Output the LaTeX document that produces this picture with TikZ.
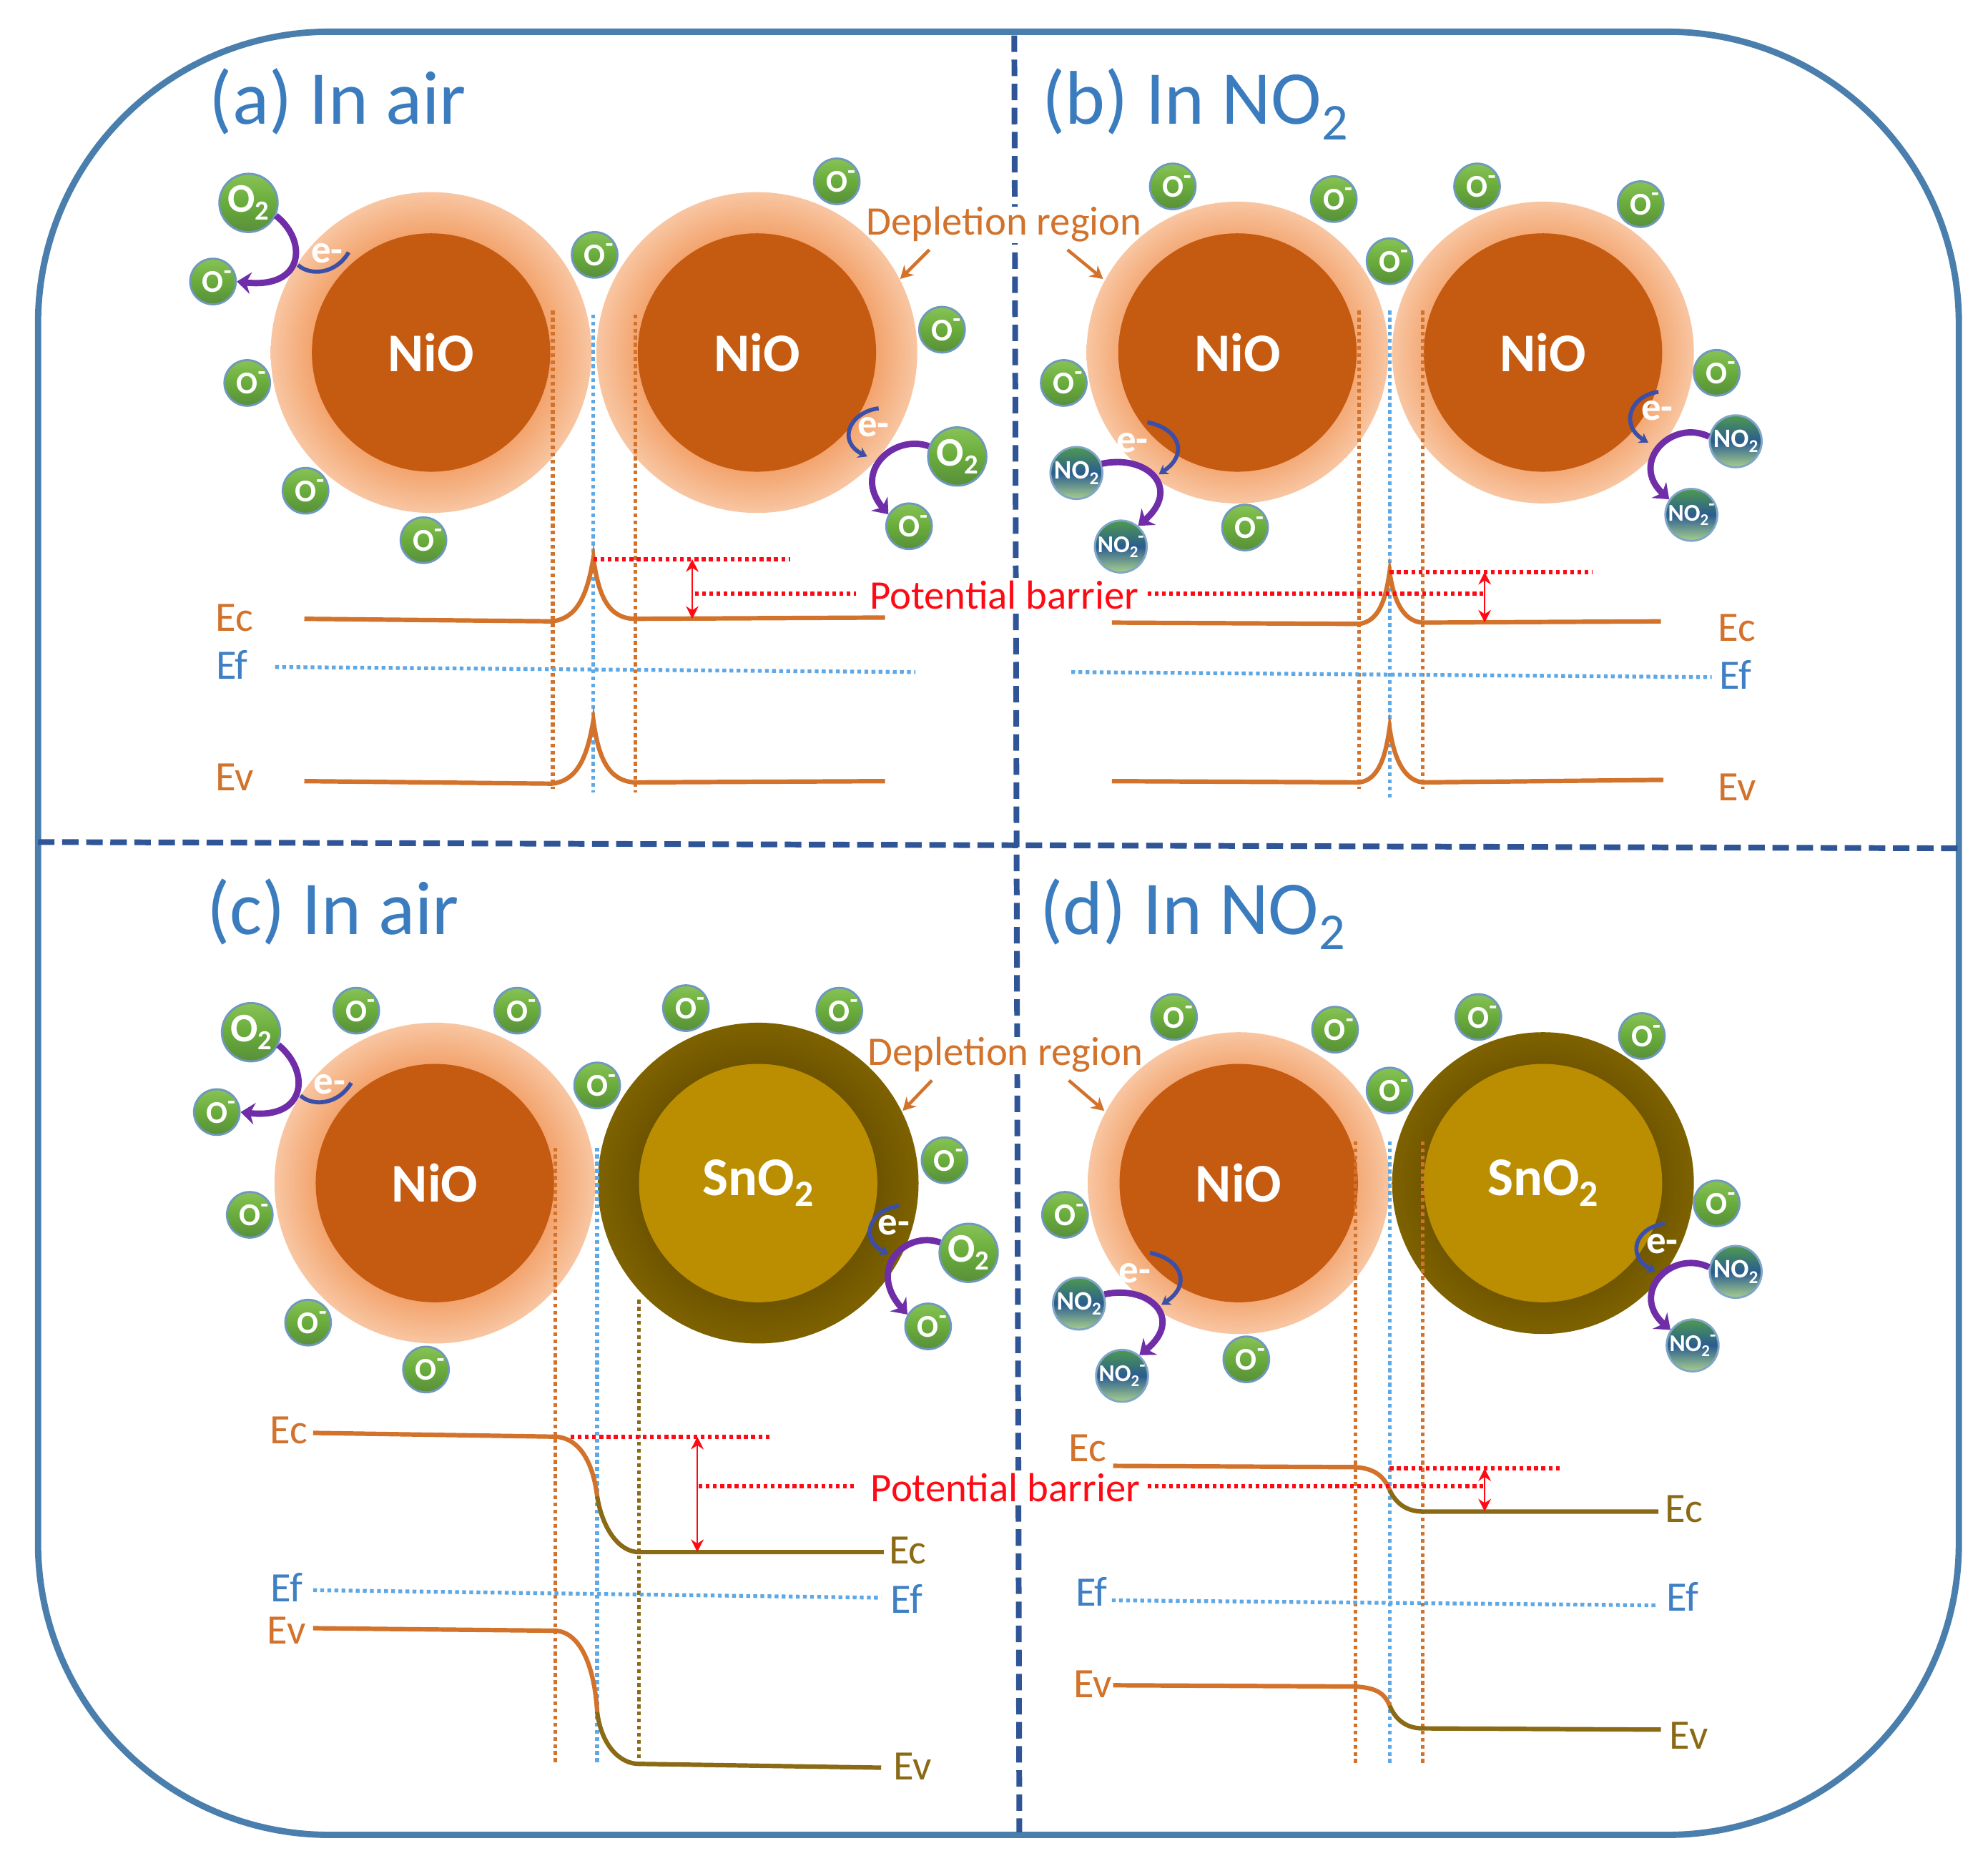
\documentclass[tikz,border=0pt]{standalone}
\usepackage{fontspec}
\setmainfont{Carlito}
\usetikzlibrary{arrows.meta}
\definecolor{framecol}{HTML}{4A7EAD}
\definecolor{divcol}{HTML}{2F5597}
\definecolor{titlecol}{HTML}{3A7CBD}
\definecolor{nioin}{HTML}{C55A11}
\definecolor{haloA}{HTML}{F3A46E}
\definecolor{haloB}{HTML}{F8C6A2}
\definecolor{snoin}{HTML}{BA8E00}
\definecolor{snoA}{HTML}{6E5400}
\definecolor{snoB}{HTML}{7E6200}
\definecolor{bandor}{HTML}{D2722B}
\definecolor{bandol}{HTML}{8A6A14}
\definecolor{fermi}{HTML}{5FA8E6}
\definecolor{labblue}{HTML}{3F80C4}
\definecolor{redd}{HTML}{FF0A14}
\definecolor{purp}{HTML}{6F2DA8}
\definecolor{elec}{HTML}{3B4FA8}
\definecolor{gtop}{HTML}{88C255}
\definecolor{gmid}{HTML}{69AC3C}
\definecolor{gbot}{HTML}{588F39}
\definecolor{ntop}{HTML}{4E9A50}
\definecolor{nmid}{HTML}{2A5C90}
\definecolor{nbot}{HTML}{A8CF8C}
\pgfdeclareradialshading{halonio}{\pgfpoint{0bp}{0bp}}{color(0bp)=(nioin);color(18.6bp)=(haloA);color(25bp)=(haloB);color(50bp)=(haloB)}
\pgfdeclareradialshading{halosno}{\pgfpoint{0bp}{0bp}}{color(0bp)=(snoA);color(18.6bp)=(snoA);color(25bp)=(snoB);color(50bp)=(snoB)}
\newcommand{\sbs}[1]{\raisebox{-.2em}{\scalebox{.68}{#1}}}
\newcommand{\sps}[1]{\raisebox{.42em}{\scalebox{.8}{#1}}}
\newcommand{\sz}[1]{\fontsize{#1}{#1}\selectfont}
\tikzset{
  paneltitle/.style={anchor=base west,text=titlecol,font=\sz{60},inner sep=0pt},
  coretext/.style={text=white,font=\sz{43}\bfseries,inner sep=0pt,circle,minimum size=188pt},
  nio/.style={coretext,fill=nioin},
  sno/.style={coretext,fill=snoin},
  shell/.style={circle,inner sep=0pt},
  ob/.style={circle,inner sep=0pt,minimum size=36pt,draw=framecol!80,line width=1.6pt,
    top color=gtop,bottom color=gbot,middle color=gmid,text=white,font=\sz{25}\bfseries},
  obb/.style={ob,minimum size=46pt,font=\sz{32}\bfseries},
  nb/.style={circle,inner sep=0pt,minimum size=41pt,draw=framecol!70,line width=1.6pt,
    top color=ntop,bottom color=nbot,middle color=nmid,text=white,font=\sz{21}\bfseries},
  nbm/.style={nb,font=\sz{19}\bfseries},
  purparrow/.style={draw=purp,line width=5pt,-{Stealth[length=11pt,width=17pt]}},
  elecarrow/.style={draw=elec,line width=3.2pt,-{Stealth[length=7pt,width=9pt]}},
  elecarc/.style={draw=elec,line width=3.2pt},
  etext/.style={text=white,font=\sz{31}\bfseries,inner sep=0pt},
  divline/.style={draw=divcol,line width=4.5pt,dash pattern=on 13pt off 6pt},
  vor/.style={draw=bandor,line width=3pt,dash pattern=on 3pt off 2.6pt},
  vol/.style={draw=bandol,line width=3pt,dash pattern=on 3pt off 2.6pt},
  vbl/.style={draw=fermi,line width=3pt,dash pattern=on 3pt off 2.6pt},
  reddot/.style={draw=redd,line width=3.5pt,dash pattern=on 3pt off 2.7pt},
  redarrow/.style={draw=redd,line width=1.2pt,{Stealth[length=10pt,width=10pt]}-{Stealth[length=10pt,width=10pt]}},
  bandO/.style={draw=bandor,line width=3.5pt},
  bandL/.style={draw=bandol,line width=3.5pt},
  lab/.style={font=\sz{33},inner sep=0pt},
  labO/.style={lab,text=bandor},
  labL/.style={lab,text=bandol},
  labB/.style={lab,text=labblue},
  deptext/.style={text=bandor,font=\sz{32},inner sep=1pt},
  redtext/.style={text=redd,font=\sz{32},inner sep=2pt,fill=white},
  deparrow/.style={draw=bandor,line width=2.5pt,-{Stealth[length=10pt,width=11pt]}},
}
\newcommand{\niograin}[4]{\node[shell,shading=halonio,minimum size=#4pt] (#1s) at (#2,#3) {};\node[nio] (#1) at (#2,#3) {NiO};}
\newcommand{\snograin}[4]{\node[shell,shading=halosno,minimum size=#4pt] (#1s) at (#2,#3) {};\node[sno] (#1) at (#2,#3) {SnO\sbs{2}};}
\newcommand{\omin}[3]{\node[ob] (#1) at (#2,#3) {O\rlap{\sps{-}}};}
\newcommand{\otwo}[3]{\node[obb] (#1) at (#2,#3) {O\sbs{2}};}
\newcommand{\ntwo}[3]{\node[nb] (#1) at (#2,#3) {NO\sbs{2}};}
\newcommand{\ntwom}[3]{\node[nbm] (#1) at (#2,#3) {NO\sbs{2}\sps{-}};}
\begin{document}
\begin{tikzpicture}[x=1pt,y=-1pt]
\useasboundingbox (0,0) rectangle (1568,1475.4);
\fill[white] (0,0) rectangle (1568,1475.4);
% ---------- frame and dividers
\draw[framecol,line width=5pt,rounded corners=230pt] (30,25) rectangle (1545,1447);
\coordinate (dt) at (800,28); \coordinate (db) at (804,1445);
\coordinate (dl) at (30,664); \coordinate (dr) at (1545,669);
\draw[divline] (dt) -- (db);
\draw[divline] (dl) -- (dr);
% gaps of the vertical divider behind the two "Depletion region" labels
\fill[white] (793,163) rectangle (809,192);
\fill[white] (793,818) rectangle (811,847);
% ---------- titles
\node[paneltitle] (ta) at (165,98) {(a) In air};
\node[paneltitle] (tb) at (822,98) {(b) In NO\sbs{2}};
\node[paneltitle] (tc) at (163,737) {(c) In air};
\node[paneltitle] (td) at (820,737) {(d) In NO\sbs{2}};
% ---------- grains
\niograin{a1}{340}{278}{253}
\niograin{a2}{597}{278}{253}
\niograin{b1}{976}{278}{238}
\niograin{b2}{1217}{278}{238}
\niograin{c1}{343}{933}{253}
\snograin{c2}{598}{933}{253}
\niograin{d1}{977}{933}{238}
\snograin{d2}{1217}{933}{238}
% ---------- vertical guides
\draw[vor] (436,245) -- (436,622);
\draw[vbl] (468,248) -- (468,625);
\draw[vor] (501,248) -- (501,625);
\draw[vor] (1072,245) -- (1072,622);
\draw[vbl] (1096,245) -- (1096,630);
\draw[vor] (1122,245) -- (1122,622);
\draw[vor] (438,905) -- (438,1390);
\draw[vbl] (471,905) -- (471,1390);
\draw[vol] (504,1025) -- (504,1390);
\draw[vor] (1069,900) -- (1069,1392);
\draw[vbl] (1096,900) -- (1096,1392);
\draw[vor] (1122,900) -- (1122,1392);
% ---------- gas species, panel a
\otwo{aO}{196}{160}\otwo{aP}{755}{360}
\omin{a3}{469}{201}\omin{a4}{660}{143}\omin{a5}{743}{260}\omin{a6}{168}{222}
\omin{a7}{195}{302}\omin{a8}{241}{387}\omin{a9}{334}{426}\omin{a10}{717}{415}
% panel b
\omin{b3}{925}{147}\omin{b4}{1052}{157}\omin{b5}{1165}{147}\omin{b6}{1294}{161}
\omin{b7}{1096}{206}\omin{b8}{839}{302}\omin{b9}{982}{416}\omin{b10}{1354}{294}
\ntwo{bN}{849}{373}\ntwom{bM}{884}{431}\ntwo{bP}{1369}{348}\ntwom{bQ}{1334}{406}
% panel c
\otwo{cO}{198}{814}\otwo{cP}{764}{988}
\omin{c3}{171}{877}\omin{c4}{281}{797}\omin{c5}{408}{797}\omin{c6}{541}{795}
\omin{c7}{662}{797}\omin{c8}{471}{856}\omin{c9}{745}{915}\omin{c10}{197}{958}
\omin{c11}{243}{1043}\omin{c12}{336}{1080}\omin{c13}{732}{1046}
% panel d
\omin{d3}{926}{802}\omin{d4}{1053}{812}\omin{d5}{1166}{802}\omin{d6}{1295}{817}
\omin{d7}{1096}{860}\omin{d8}{840}{958}\omin{d9}{983}{1072}\omin{d10}{1354}{949}
\ntwo{dN}{851}{1028}\ntwom{dM}{885}{1085}\ntwo{dP}{1369}{1003}\ntwom{dQ}{1335}{1061}
% ---------- curved arrows, panel a
\draw[purparrow] (aO.-25) .. controls (243,190) and (240,228) .. (a6.east);
\draw[elecarc] (235,209) .. controls (245,218) and (265,216) .. (275,199);
\node[etext] (ae1) at (258,200) {e-};
\draw[purparrow] (aP.160) .. controls (705,342) and (672,372) .. (a10.150);
\draw[elecarrow] (693,322) .. controls (670,325) and (660,348) .. (684,360);
\node[etext] (ae2) at (689,337) {e-};
% panel b
\draw[purparrow] (bN.20) .. controls (905,358) and (932,385) .. (bM.50);
\draw[elecarrow] (905,333) .. controls (930,338) and (938,358) .. (914,374);
\node[etext] (be1) at (893,349) {e-};
\draw[purparrow] (bP.170) .. controls (1318,330) and (1285,365) .. (bQ.145);
\draw[elecarrow] (1308,309) .. controls (1286,312) and (1277,335) .. (1300,349);
\node[etext] (be2) at (1307,324) {e-};
% panel c
\draw[purparrow] (cO.-25) .. controls (245,845) and (242,883) .. (c3.east);
\draw[elecarc] (237,864) .. controls (247,873) and (267,871) .. (277,854);
\node[etext] (ce1) at (260,855) {e-};
\draw[purparrow] (cP.160) .. controls (715,970) and (683,1000) .. (c13.150);
\draw[elecarrow] (709,951) .. controls (686,954) and (677,977) .. (701,989);
\node[etext] (ce2) at (705,966) {e-};
% panel d
\draw[purparrow] (dN.20) .. controls (907,1013) and (934,1040) .. (dM.50);
\draw[elecarrow] (907,988) .. controls (932,993) and (940,1013) .. (916,1029);
\node[etext] (de1) at (895,1004) {e-};
\draw[purparrow] (dP.170) .. controls (1318,985) and (1285,1020) .. (dQ.145);
\draw[elecarrow] (1313,965) .. controls (1290,968) and (1282,990) .. (1306,1003);
\node[etext] (de2) at (1311,981) {e-};
% ---------- bands, panel a
\draw[vbl] (217,526) -- (722,530);
\draw[bandO] (240,488) -- (435,490) .. controls (455,488) and (463,470) .. (468,440) .. controls (472,470) and (480,488) .. (501,488) -- (698,487);
\draw[bandO] (240,616) -- (435,618) .. controls (455,616) and (463,598) .. (468,568) .. controls (472,598) and (480,616) .. (501,617) -- (698,616);
\draw[reddot] (468,441) -- (623,441);
\draw[reddot] (548,468) -- (675,468);
\coordinate (aa1) at (546,441); \coordinate (aa2) at (546,488);
\draw[redarrow] (aa1) -- (aa2);
\node[labO] (lEca) at (185,487) {Ec};
\node[labB] (lEfa) at (183,524) {Ef};
\node[labO] (lEva) at (185,613) {Ev};
% panel b
\draw[vbl] (845,530) -- (1350,534);
\draw[bandO] (877,491) -- (1072,492) .. controls (1088,490) and (1093,472) .. (1096,451) .. controls (1099,472) and (1106,490) .. (1122,491) -- (1310,490);
\draw[bandO] (877,616) -- (1072,617) .. controls (1088,615) and (1093,595) .. (1096,574) .. controls (1099,595) and (1106,615) .. (1122,617) -- (1312,615);
\draw[reddot] (1096,451) -- (1256,451);
\draw[reddot] (905,468) -- (1170,468);
\coordinate (ba1) at (1171,451); \coordinate (ba2) at (1171,491);
\draw[redarrow] (ba1) -- (ba2);
\node[labO] (lEcb) at (1370,495) {Ec};
\node[labB] (lEfb) at (1369,532) {Ef};
\node[labO] (lEvb) at (1370,621) {Ev};
% panel c
\draw[vbl] (247,1254) -- (695,1260);
\draw[bandO] (247,1130) -- (438,1133) .. controls (458,1134) and (468,1155) .. (471,1180);
\draw[bandL] (471,1180) .. controls (475,1205) and (488,1224) .. (504,1224) -- (697,1224);
\draw[bandO] (247,1284) -- (438,1286) .. controls (458,1287) and (469,1315) .. (471,1350);
\draw[bandL] (471,1350) .. controls (474,1375) and (488,1391) .. (504,1391) -- (695,1394);
\draw[reddot] (450,1133) -- (607,1133);
\draw[reddot] (551,1172) -- (675,1172);
\coordinate (ca1) at (550,1133); \coordinate (ca2) at (550,1224);
\draw[redarrow] (ca1) -- (ca2);
\node[labO] (lEcc) at (228,1128) {Ec};
\node[labL] (lEcc2) at (716,1223) {Ec};
\node[labB] (lEfc) at (226,1252) {Ef};
\node[labB] (lEfc2) at (715,1261) {Ef};
\node[labO] (lEvc) at (226,1286) {Ev};
\node[labL] (lEvc2) at (720,1393) {Ev};
% panel d
\draw[vbl] (877,1262) -- (1308,1266);
\draw[bandO] (878,1156) -- (1069,1157) .. controls (1085,1158) and (1092,1165) .. (1096,1175);
\draw[bandL] (1096,1175) .. controls (1101,1186) and (1110,1192) .. (1122,1192) -- (1308,1192);
\draw[bandO] (878,1329) -- (1069,1330) .. controls (1085,1331) and (1092,1335) .. (1096,1345);
\draw[bandL] (1096,1345) .. controls (1101,1357) and (1110,1363) .. (1122,1363) -- (1310,1364);
\draw[reddot] (1096,1158) -- (1231,1158);
\draw[reddot] (905,1172) -- (1170,1172);
\coordinate (da1) at (1171,1158); \coordinate (da2) at (1171,1192);
\draw[redarrow] (da1) -- (da2);
\node[labO] (lEcd) at (858,1142) {Ec};
\node[labL] (lEcd2) at (1328,1190) {Ec};
\node[labB] (lEfd) at (861,1255) {Ef};
\node[labB] (lEfd2) at (1327,1259) {Ef};
\node[labO] (lEvd) at (862,1328) {Ev};
\node[labL] (lEvd2) at (1332,1369) {Ev};
% ---------- centre labels
\node[redtext] (pb1) at (792,469) {Potential barrier};
\node[redtext] (pb2) at (793,1173) {Potential barrier};
\node[deptext] (dr1) at (792,177) {Depletion region};
\node[deptext] (dr2) at (793,832) {Depletion region};
\coordinate (p1a) at (733,197); \coordinate (p1b) at (710,220);
\coordinate (p2a) at (842,197); \coordinate (p2b) at (870,220);
\coordinate (p3a) at (735,852); \coordinate (p3b) at (712,876);
\coordinate (p4a) at (843,852); \coordinate (p4b) at (871,876);
\draw[deparrow] (p1a) -- (p1b);
\draw[deparrow] (p2a) -- (p2b);
\draw[deparrow] (p3a) -- (p3b);
\draw[deparrow] (p4a) -- (p4b);
\end{tikzpicture}
\end{document}
